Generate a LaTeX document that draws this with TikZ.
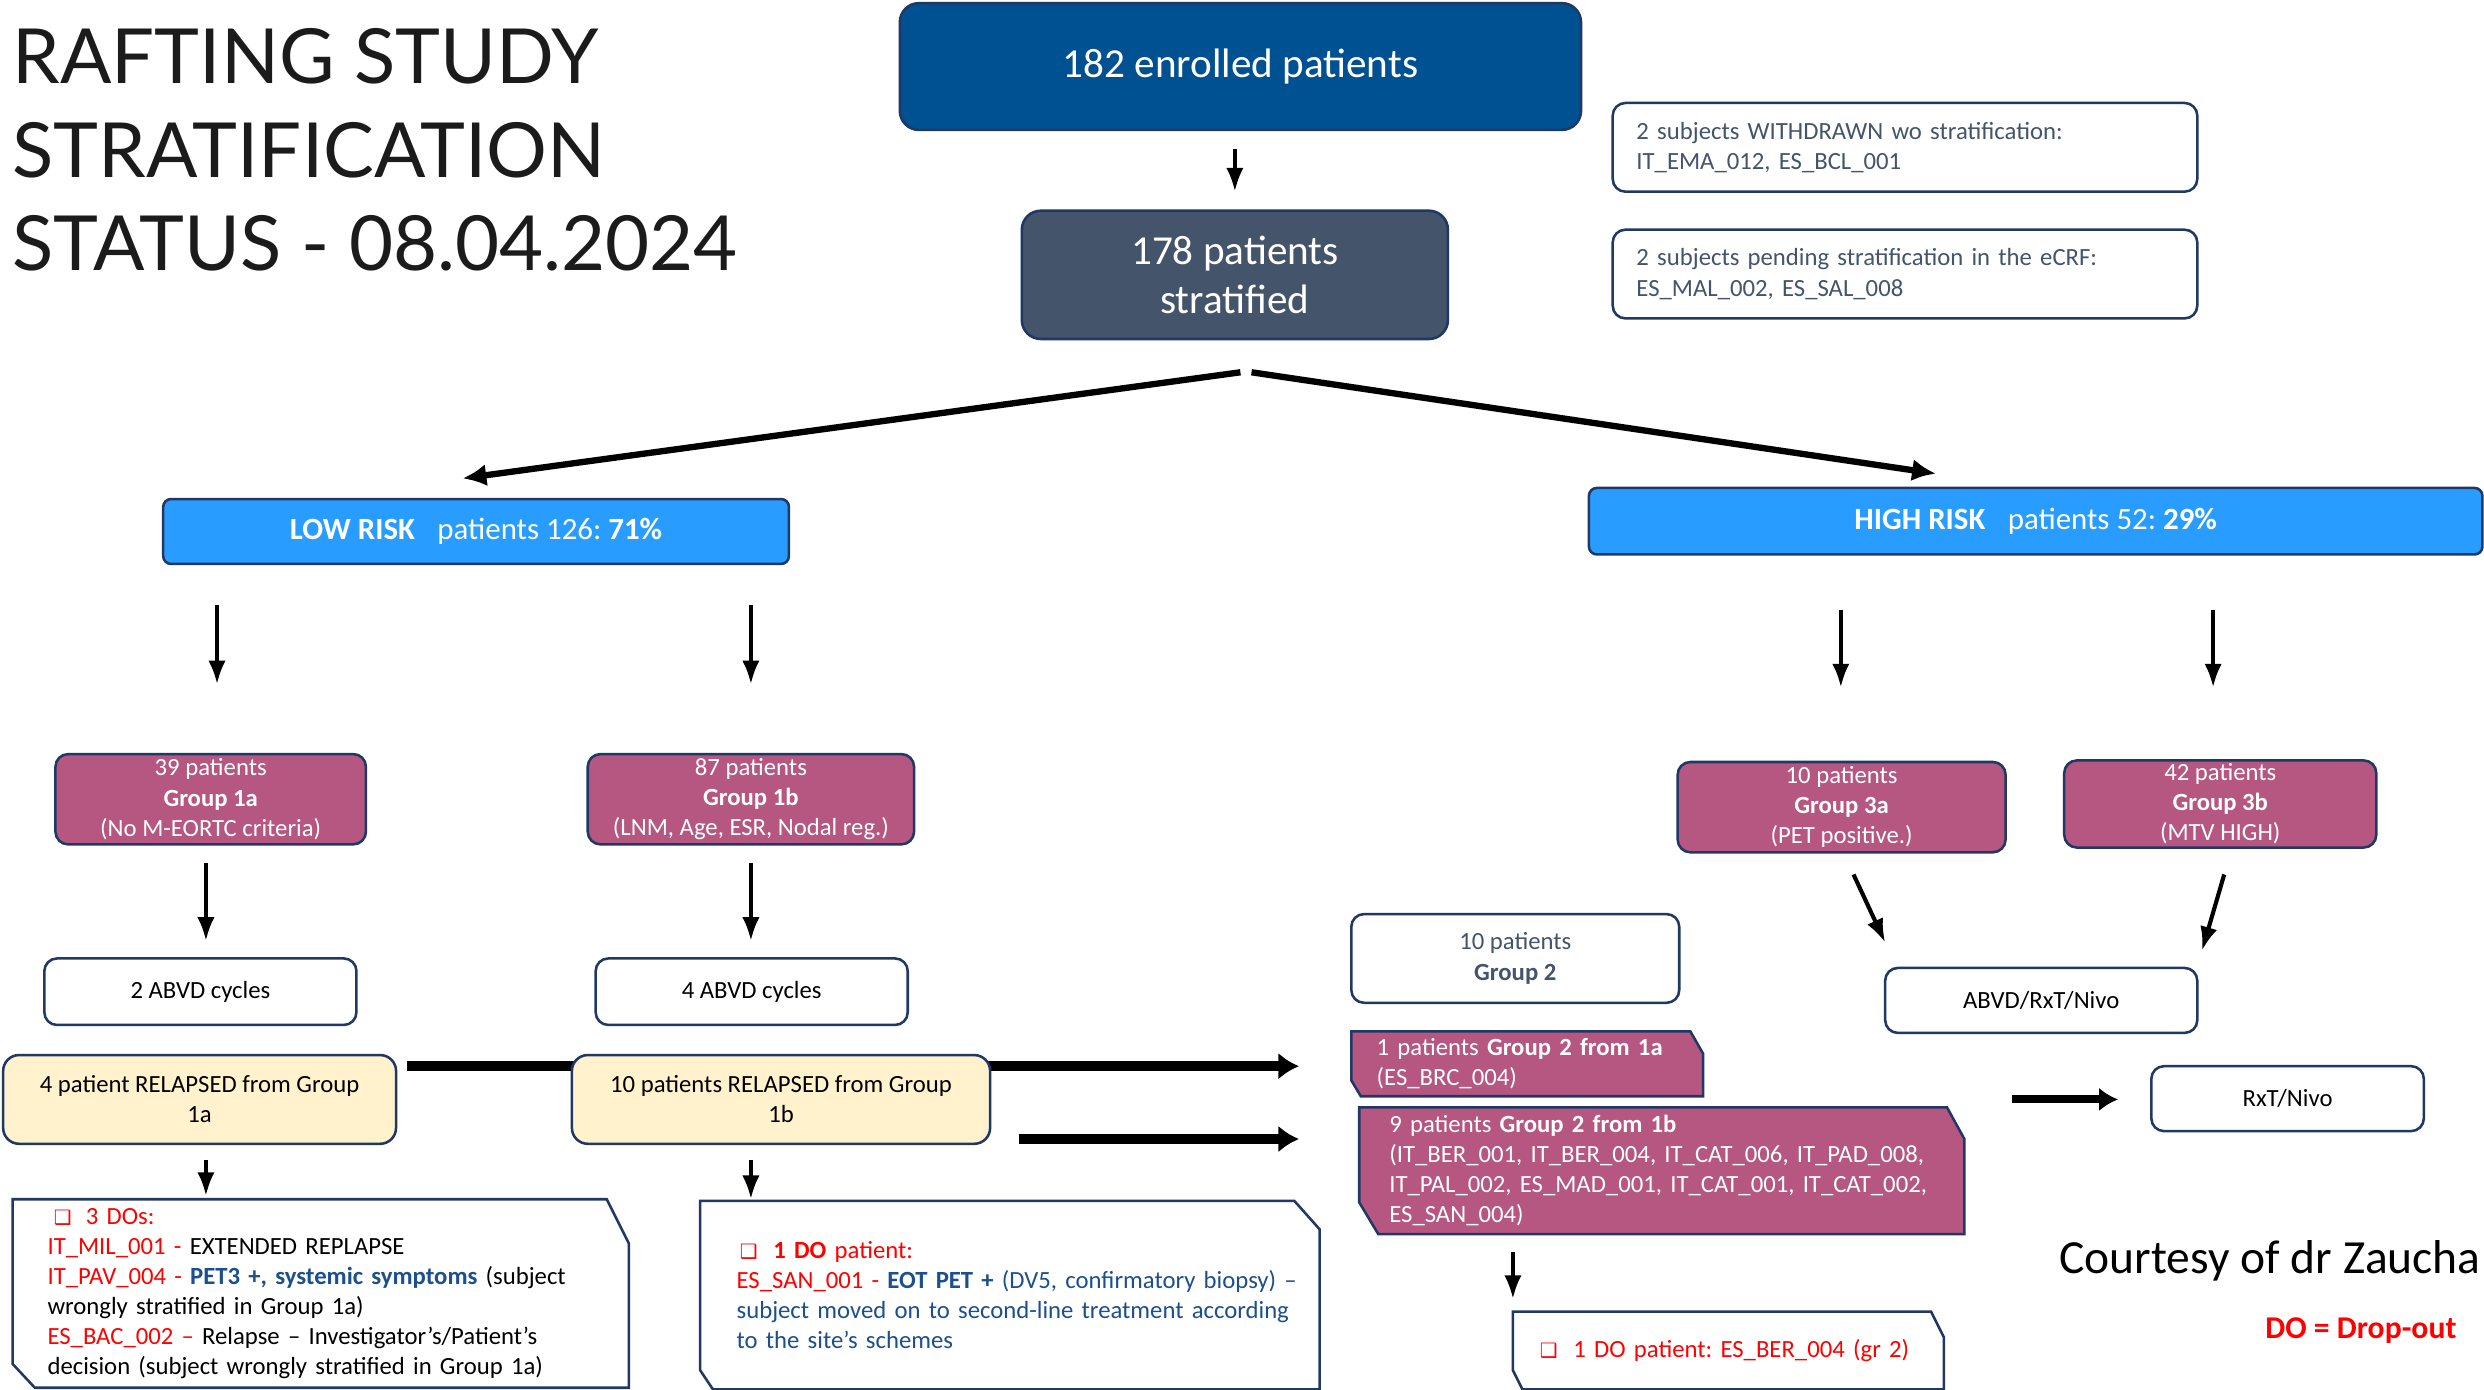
\documentclass[tikz,border=0pt]{standalone}
\usepackage{fontspec}
\setmainfont{Carlito}
\newfontfamily\titlefont{Lato}
\newfontfamily\symfont{DejaVu Sans}
\usetikzlibrary{arrows.meta,calc,backgrounds}
\frenchspacing

\definecolor{navy}{RGB}{31,56,100}
\definecolor{deepblue}{RGB}{0,81,145}
\definecolor{slate}{RGB}{68,84,106}
\definecolor{skyblue}{RGB}{41,157,255}
\definecolor{berry}{RGB}{181,87,128}
\definecolor{cream}{RGB}{255,242,204}
\definecolor{dored}{RGB}{255,0,0}
\definecolor{doblue}{RGB}{28,79,143}
\definecolor{titlegray}{RGB}{27,27,27}

\newcommand\txtS{\fontsize{15.6}{19}\selectfont}
\newcommand\txtM{\fontsize{19.5}{23}\selectfont}
\newcommand\txtL{\fontsize{26}{31}\selectfont}
\newcommand\chk{{\symfont\fontsize{12.5}{12}\selectfont\char"2751}}

% outline of a box with snipped top-right and bottom-left corners
\newcommand\snipframe[6]{%
  \path[draw=navy, line width=1.6pt, fill=#2]
    (#1.north west) -- ($(#1.north east)+(-#3,0)$) -- ($(#1.north east)+(0,#4)$)
    -- (#1.south east) -- ($(#1.south west)+(#5,0)$) -- ($(#1.south west)+(0,-#6)$)
    -- cycle;}

\tikzset{
  every node/.style={inner sep=0pt, outer sep=0pt},
  basebox/.style={draw=navy, line width=1.6pt, align=center, rounded corners=8pt},
  bigbox/.style={basebox, rounded corners=12pt, text=white, font=\txtL},
  infobox/.style={basebox, fill=white, text=slate, font=\txtS, align=left},
  riskbox/.style={basebox, rounded corners=5pt, fill=skyblue, text=white, font=\txtM},
  grpbox/.style={basebox, fill=berry, text=white, font=\txtS},
  plainbox/.style={basebox, fill=white, text=black, font=\txtS},
  relbox/.style={basebox, rounded corners=10pt, fill=cream, text=black, font=\txtS},
  snipnode/.style={align=left, font=\txtS},
  titleline/.style={anchor=base west, font=\titlefont\fontsize{48}{58}\selectfont, text=titlegray},
  arr/.style={line width=2.6pt, -{Latex[length=15pt,width=11pt]}},
  splitarr/.style={line width=4pt, -{Latex[length=15pt,width=14pt]}},
  fatarr/.style={line width=6pt, -{Latex[length=13pt,width=17pt]}},
}

\begin{document}
\begin{tikzpicture}[x=1pt,y=-1pt]
\useasboundingbox (0,0) rectangle (1568,877);

% heading
\node[titleline] (title1) at (8,53) {RAFTING STUDY};
\node[titleline] (title2) at (8,112) {STRATIFICATION};
\node[titleline] (title3) at (8,171) {STATUS - 08.04.2024};

% top of the flow
\node[bigbox, fill=deepblue, minimum width=430pt, minimum height=80pt] (enrolled) at (783,42) {182 enrolled patients};
\node[bigbox, fill=slate, minimum width=269pt, minimum height=81pt] (strat) at (779.5,173.5) {178 patients\\stratified};

\node[infobox, minimum width=369pt, minimum height=56pt, text width=339pt] (withdrawn) at (1202.5,93)
  {2 subjects WITHDRAWN wo stratification:\\IT\_EMA\_012, ES\_BCL\_001};
\node[infobox, minimum width=369pt, minimum height=56pt, text width=339pt] (pending) at (1202.5,173)
  {2 subjects pending stratification in the eCRF:\\ES\_MAL\_002, ES\_SAL\_008};

% risk classes
\node[riskbox, minimum width=395pt, minimum height=41pt] (lowrisk) at (300.5,335.5)
  {\textbf{LOW RISK}\hspace{0.5em} patients 126: \textbf{71\%}};
\node[riskbox, minimum width=564pt, minimum height=42pt] (highrisk) at (1285,329)
  {\textbf{HIGH RISK}\hspace{0.5em} patients 52: \textbf{29\%}};

% groups
\node[grpbox, minimum width=196pt, minimum height=57pt] (g1a) at (133,504.5)
  {39 patients\\\textbf{Group 1a}\\(No M-EORTC criteria)};
\node[grpbox, minimum width=206pt, minimum height=57pt] (g1b) at (474,504.5)
  {87 patients\\\textbf{Group 1b}\\(LNM, Age, ESR, Nodal reg.)};
\node[grpbox, minimum width=207pt, minimum height=57pt] (g3a) at (1162.5,509.5)
  {10 patients\\\textbf{Group 3a}\\(PET positive.)};
\node[grpbox, minimum width=197pt, minimum height=55pt] (g3b) at (1401.5,507.5)
  {42 patients\\\textbf{Group 3b}\\(MTV HIGH)};

% treatment
\node[plainbox, minimum width=197pt, minimum height=42pt] (abvd2) at (126.5,626) {2 ABVD cycles};
\node[plainbox, minimum width=197pt, minimum height=42pt] (abvd4) at (474.5,626) {4 ABVD cycles};
\node[plainbox, minimum width=197pt, minimum height=41pt] (arvn) at (1288.5,631.5) {ABVD/RxT/Nivo};
\node[plainbox, minimum width=172pt, minimum height=41pt] (rxt) at (1444,693.5) {RxT/Nivo};

% relapses
\node[relbox, minimum width=248pt, minimum height=56pt] (rel1a) at (126,694)
  {4 patient RELAPSED from Group\\1a};
\node[relbox, minimum width=264pt, minimum height=56pt] (rel1b) at (493,694)
  {10 patients RELAPSED from Group\\1b};

% group 2
\node[basebox, fill=white, text=slate, font=\txtS, minimum width=207pt, minimum height=56pt] (g2) at (956.5,605)
  {10 patients\\\textbf{Group 2}};
\node[snipnode, text=white, minimum width=222pt, minimum height=41pt, text width=190pt] (g2a) at (964,671.5)
  {1 patients \textbf{Group 2 from 1a}\\(ES\_BRC\_004)};
\node[snipnode, text=white, minimum width=382pt, minimum height=80pt, text width=344pt] (g2b) at (1049,739)
  {9 patients \textbf{Group 2 from 1b}\\
   \mbox{(IT\_BER\_001, IT\_BER\_004, IT\_CAT\_006, IT\_PAD\_008,}\\
   \mbox{IT\_PAL\_002, ES\_MAD\_001, IT\_CAT\_001, IT\_CAT\_002,}\\
   ES\_SAN\_004)};

% drop-outs
\node[snipnode, text=black, minimum width=389pt, minimum height=119pt, text width=345pt] (do1a) at (202.5,816.5)
  {\hspace*{4pt}\textcolor{dored}{\chk\hspace{9pt}3 DOs:}\\
   \textcolor{dored}{IT\_MIL\_001 -} EXTENDED REPLAPSE\\
   \mbox{\textcolor{dored}{IT\_PAV\_004 -} \textcolor{doblue}{\textbf{PET3 +, systemic symptoms}} (subject}\\
   wrongly stratified in Group 1a)\\
   \mbox{\textcolor{dored}{ES\_BAC\_002 –} Relapse – Investigator’s/Patient’s}\\
   \mbox{decision (subject wrongly stratified in Group 1a)}};
\node[snipnode, text=doblue, minimum width=391pt, minimum height=119pt, text width=345pt] (do1b) at (637.5,817.5)
  {\hspace*{2pt}\textcolor{dored}{\chk\hspace{10pt}\textbf{1 DO} patient:}\\
   \mbox{\textcolor{dored}{ES\_SAN\_001 -} \textbf{EOT PET +} (DV5, confirmatory biopsy) –}\\
   \mbox{subject moved on to second-line treatment according}\\
   to the site's schemes};
\node[snipnode, text=dored, minimum width=272pt, minimum height=49pt, text width=238pt] (dogr2) at (1091,852.5)
  {\chk\hspace{10pt}1 DO patient: ES\_BER\_004 (gr 2)};

% notes
\node[anchor=base west, font=\fontsize{30}{36}\selectfont] (courtesy) at (1300,804) {Courtesy of dr Zaucha};
\node[anchor=base west, font=\fontsize{20}{24}\selectfont\bfseries, text=dored] (dolegend) at (1430,845) {DO = Drop-out};

% page ground, snipped outlines and the arrows passing behind boxes
\begin{scope}[on background layer]
  \fill[white] (0,0) rectangle (1568,877);
  \snipframe{g2a}{berry}{8}{14}{6}{10}
  \snipframe{g2b}{berry}{11}{20}{12}{20}
  \snipframe{do1a}{white}{14}{28}{14}{15}
  \snipframe{do1b}{white}{16}{18}{8}{12}
  \snipframe{dogr2}{white}{8}{16}{6}{12}
  \draw[fatarr] ($(rel1a.east |- g2a.west)+(7,1.5)$) -- ($(g2a.west)+(-33,1.5)$);
  \draw[fatarr] ($(rel1b.east)+(18,25)$) -- ($(rel1b.east -| g2b.west)+(-38,25)$);
\end{scope}

% connectors
\draw[arr] ($(strat.north |- enrolled.south)+(0,12)$) -- ($(strat.north)+(0,-12)$);
\draw[splitarr] ($(strat.south)+(3.5,21)$) -- ($(lowrisk.north)+(-8.5,-13)$);
\draw[splitarr] ($(strat.south)+(10.5,21)$) -- ($(highrisk.north)+(-63,-9)$);

\draw[arr] ($(lowrisk.south -| g1a.north)+(4,26)$) -- ($(g1a.north)+(4,-44)$);
\draw[arr] ($(lowrisk.south -| g1b.north)+(0,26)$) -- ($(g1b.north)+(0,-44)$);
\draw[arr] ($(highrisk.south -| g3a.north)+(-0.5,35)$) -- ($(g3a.north)+(-0.5,-47)$);
\draw[arr] ($(highrisk.south -| g3b.north)+(-4.5,35)$) -- ($(g3b.north)+(-4.5,-46)$);

\draw[arr] ($(g1a.south)+(-3,12)$) -- ($(abvd2.north)+(3.5,-11)$);
\draw[arr] ($(g1b.south)+(0,12)$) -- ($(abvd4.north)+(-0.5,-11)$);

\draw[arr] ($(rel1a.south)+(4,10)$) -- ($(rel1a.south |- do1a.north)+(4,-2)$);
\draw[arr] ($(rel1b.south)+(-19,10)$) -- ($(rel1b.south |- do1b.north)+(-19,-1)$);

\draw[arr] ($(g3a.south)+(7.5,14)$) -- ($(arvn.north west)+(0,-16)$);
\draw[arr] ($(g3b.south)+(2.5,17)$) -- ($(arvn.north east)+(3,-11)$);

\draw[arr] ($(g2b.south -| dogr2.north west)+(0,11)$) -- ($(dogr2.north west)+(0,-8)$);

\coordinate (rxtfrom) at ($(rxt.west)+(-88,0.5)$);
\draw[line width=5pt, -{Latex[length=12pt,width=15pt]}] (rxtfrom) -- ($(rxt.west)+(-21,0.5)$);
\end{tikzpicture}
\end{document}
